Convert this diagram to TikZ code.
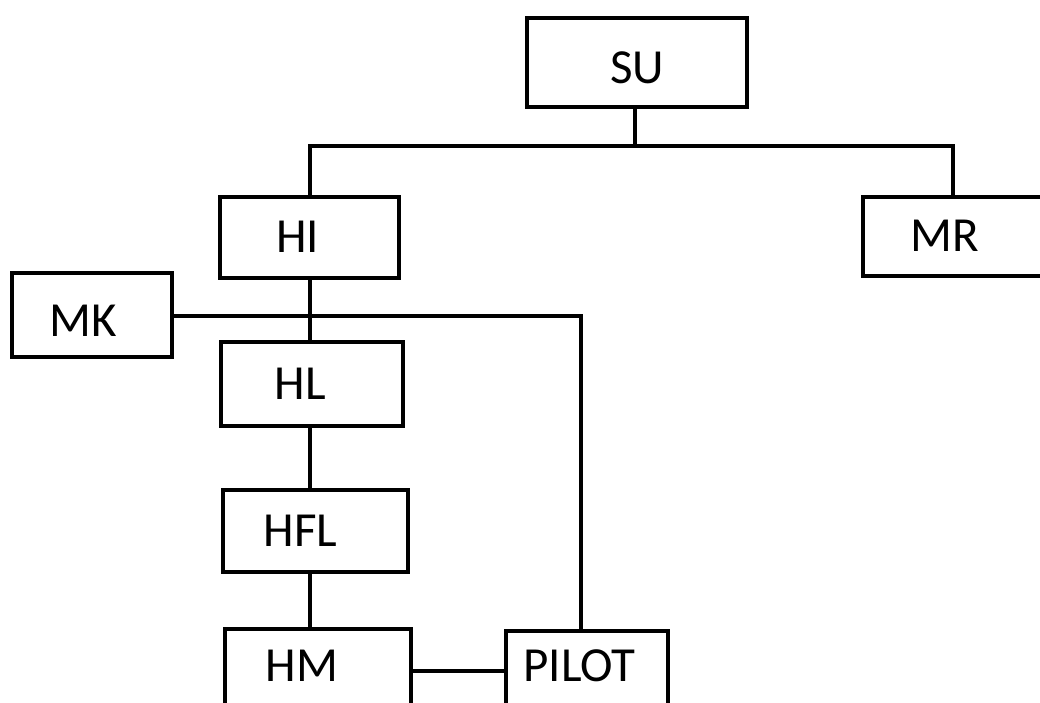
\documentclass[tikz,border=0pt]{standalone}
\usepackage{fontspec}
\setmainfont{Carlito}
\begin{document}
\begin{tikzpicture}[x=1pt,y=-1pt,line width=4pt,
        box/.style={draw, rectangle, inner sep=0pt, minimum width=#1, minimum height=83pt,
          font=\fontsize{49}{55}\selectfont},
        box/.default=182pt]
        \useasboundingbox (0,0) rectangle (1040,702);
        
        %the boxes
        \node[box=220pt, minimum height=89pt, text height=44pt] (su) at (637,62) {SU};
        \node[box=179pt, minimum height=81pt] (hi) at (309.5,237) {HI\kern24pt};
        \node[box=180pt, minimum height=79pt] (mr) at (953,236) {MR\kern16pt};
        \node[box=160pt, minimum height=84pt, text height=44pt] (mk) at (92,314.5) {MK\kern18pt};
        \node[box=182pt, minimum height=84pt] (hl) at (312,383.5) {HL\kern23pt};
        \node[box=185pt, minimum height=82pt] (hfl) at (315.5,530.5) {HFL\kern30pt};
        \node[box=186pt, minimum height=84pt, text depth=10pt] (hm) at (318,671) {HM\kern32pt};
        \node[box=162pt, minimum height=84pt, text depth=14pt] (pilot) at (587,673) {PILOT\kern15pt};
        
        %the lines
        \coordinate (bus) at (635,146);
        \draw (su.south -| bus) -- (bus);
        \draw (hi.north) |- (bus) -| (mr.north);
        \draw (hi.south) -- (hi.south |- hl.north);
        \draw (hi.south |- hl.south) -- (hi.south |- hfl.north);
        \draw (hi.south |- hfl.south) -- (hi.south |- hm.north);
        \coordinate (drop) at (581,316);
        \draw (mk.east |- drop) -- (drop) -- (drop |- pilot.north);
        \draw (hm.east) -- (hm.east -| pilot.west);
        
\end{tikzpicture}
\end{document}
